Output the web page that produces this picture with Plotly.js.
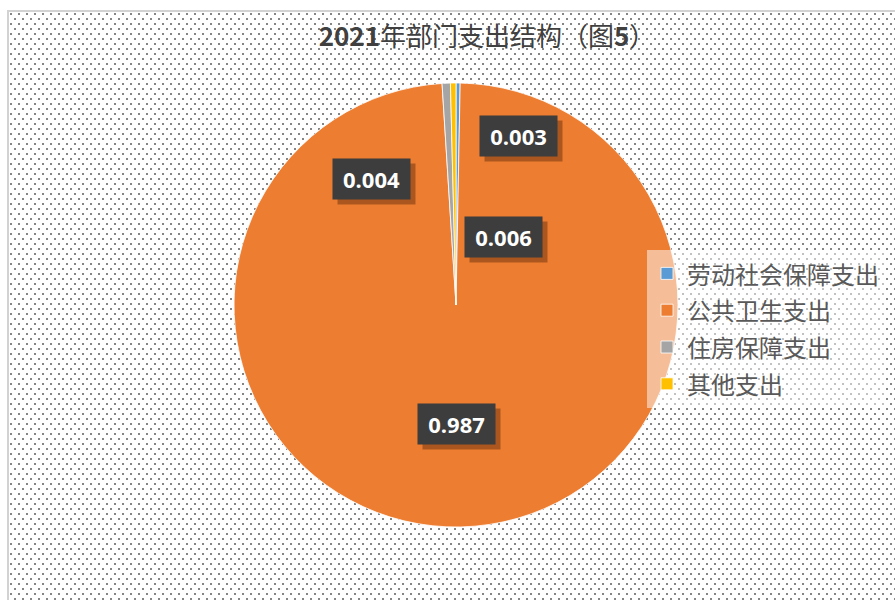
<!DOCTYPE html>
<html>
<head>
<meta charset="utf-8">
<script src="https://cdn.plot.ly/plotly-3.0.1.min.js"></script>
<style>
  html, body { margin:0; padding:0; background:#ffffff; }
  #bg {
    position:absolute; left:7px; top:10px; width:900px; height:600px;
    border:2px solid #d2d2d2; box-sizing:border-box;
    background-color:#ffffff;
    background-image:url("data:image/svg+xml;utf8,<svg xmlns='http://www.w3.org/2000/svg' width='8' height='10'><rect x='1' y='1' width='2' height='2' fill='%23858585'/><rect x='5' y='6' width='2' height='2' fill='%23858585'/></svg>");
  }
  #chart { position:absolute; left:0; top:0; width:895px; height:600px; }
</style>
</head>
<body>
<div id="bg"></div>
<div id="chart"></div>
<script>
// ---- data ----
const categories = ['劳动社会保障支出', '公共卫生支出', '住房保障支出', '其他支出'];
const values = [0.003, 0.987, 0.006, 0.004];
const colors = ['#5B9BD5', '#ED7D31', '#A5A5A5', '#FFC000'];
const chartTitle = '<b>2021</b>年部门支出结构（图<b>5</b>）';

// ---- label box placement (pixels in the 895x600 page), same order as values ----
const labelPos = [[518.5, 136], [456, 424], [503, 237], [371, 179]];

const W = 895, H = 600;

const trace = {
  type: 'pie',
  labels: categories.map(c => '<span style="font-size:24px">' + c + '</span>'),
  values: values,
  sort: false,
  direction: 'clockwise',
  rotation: 0,
  textinfo: 'none',
  hoverinfo: 'label+value',
  marker: { colors: colors, line: { color: '#ffffff', width: 0.8 } },
  domain: { x: [(456 - 223) / W, (456 + 223) / W], y: [1 - 527 / H, 1 - 83 / H] }
};

const annotations = [];
values.forEach((v, i) => {
  const x = labelPos[i][0] / W, y = 1 - labelPos[i][1] / H;
  annotations.push({
    xref: 'paper', yref: 'paper', x: x, y: y, xshift: 5, yshift: -5,
    xanchor: 'center', yanchor: 'middle',
    text: ' ', showarrow: false, width: 67, height: 30, borderpad: 5,
    bgcolor: 'rgba(90,40,10,0.45)'
  });
  annotations.push({
    xref: 'paper', yref: 'paper', x: x, y: y,
    xanchor: 'center', yanchor: 'middle',
    text: '<b>' + v.toFixed(3) + '</b>', showarrow: false,
    width: 67, height: 30, borderpad: 5,
    bgcolor: '#3d3d3d',
    font: { family: 'Open Sans, Noto Sans, sans-serif', size: 22, color: '#ffffff' }
  });
});

const layout = {
  width: W, height: H,
  margin: { l: 0, r: 0, t: 0, b: 0 },
  paper_bgcolor: 'rgba(0,0,0,0)',
  plot_bgcolor: 'rgba(0,0,0,0)',
  title: {
    text: chartTitle,
    x: 487 / W, xanchor: 'center', xref: 'container',
    y: 1 - 37 / H, yanchor: 'middle', yref: 'container',
    font: { family: 'Noto Sans CJK SC, sans-serif', size: 26, color: '#404040' }
  },
  showlegend: true,
  legend: {
    x: 647 / W, xanchor: 'left',
    y: 1 - 250 / H, yanchor: 'top',
    bgcolor: 'rgba(255,255,255,0.5)',
    font: { family: 'Noto Sans CJK SC, sans-serif', size: 26, color: '#595959' }
  },
  annotations: annotations
};

Plotly.newPlot('chart', [trace], layout, { displayModeBar: false, staticPlot: true });
</script>
</body>
</html>
